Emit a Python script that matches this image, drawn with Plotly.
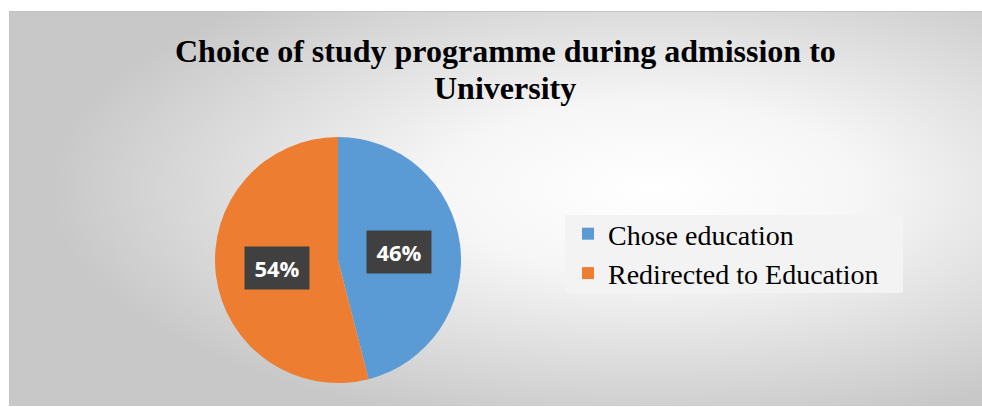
import math
import base64
import plotly.graph_objects as go

# ---- data ----
categories = ["Chose education", "Redirected to Education"]
values = [46, 54]
colors = ["#5B9BD5", "#ED7D31"]
title_lines = ["Choice of study programme during admission to", "University"]

W, H = 982, 407

# background gradient as an inline SVG image
svg = (
    '<svg xmlns="http://www.w3.org/2000/svg" width="973" height="395" viewBox="0 0 973 395" preserveAspectRatio="none">'
    '<defs><radialGradient id="g" cx="0.66" cy="0.45" r="0.62" gradientUnits="objectBoundingBox">'
    '<stop offset="0" stop-color="#ffffff"/><stop offset="0.35" stop-color="#f6f6f6"/>'
    '<stop offset="1" stop-color="#c8c8c8"/></radialGradient></defs>'
    '<rect x="0" y="0" width="973" height="395" fill="url(#g)"/>'
    '<line x1="0" y1="0.5" x2="973" y2="0.5" stroke="#c4c4c4" stroke-width="1"/>'
    '<line x1="0.5" y1="0" x2="0.5" y2="395" stroke="#c4c4c4" stroke-width="1"/>'
    '</svg>'
)
src = "data:image/svg+xml;base64," + base64.b64encode(svg.encode()).decode()

# pie domain (pixels -> paper)
px0, px1, py0, py1 = 215, 461, 137, 383
dom_x = [px0 / W, px1 / W]
dom_y = [1 - py1 / H, 1 - py0 / H]
cx = (px0 + px1) / 2
cy = (py0 + py1) / 2
rad = (px1 - px0) / 2

fig = go.Figure()
fig.add_trace(go.Pie(
    labels=categories,
    values=values,
    sort=False,
    direction="clockwise",
    rotation=0,
    marker=dict(colors=colors, line=dict(width=0)),
    textinfo="none",
    hoverinfo="label+percent",
    domain=dict(x=dom_x, y=dom_y),
))

# labels placed at each slice's mid-angle, computed from the data
total = sum(values)
cum = 0
annotations = []
for v in values:
    mid = (cum + v / 2) / total * 2 * math.pi
    cum += v
    lx = cx + 0.5 * rad * math.sin(mid)
    ly = cy - 0.5 * rad * math.cos(mid)
    pct = round(v / total * 100)
    annotations.append(dict(
        x=lx / W, y=1 - ly / H, xref="paper", yref="paper",
        xanchor="center", yanchor="middle",
        text=f"<b>{pct}%</b>", showarrow=False,
        font=dict(family="Open Sans", size=22, color="white"),
        bgcolor="#404040", borderpad=8, width=48, height=26,
    ))

# chart title (two lines, tighter spacing like the original)
for i, line in enumerate(title_lines):
    annotations.append(dict(
        x=505 / W, y=1 - (51 + 37 * i) / H, xref="paper", yref="paper",
        xanchor="center", yanchor="middle", showarrow=False,
        text=f"<b>{line}</b>",
        font=dict(family="Liberation Serif", size=32, color="black"),
    ))

fig.update_layout(
    width=W, height=H,
    margin=dict(l=0, r=0, t=0, b=0),
    paper_bgcolor="white",
    plot_bgcolor="rgba(0,0,0,0)",
    images=[dict(source=src, xref="paper", yref="paper",
                 x=9 / W, y=1 - 11 / H, sizex=(W - 9) / W, sizey=(406 - 11) / H,
                 xanchor="left", yanchor="top", sizing="stretch", layer="below")],
    shapes=[dict(type="rect", xref="paper", yref="paper",
                 x0=565 / W, x1=903 / W, y0=1 - 293 / H, y1=1 - 215 / H,
                 fillcolor="#f3f3f3", line=dict(width=0), layer="below")],
    legend=dict(x=568 / W, y=1 - 209 / H, xanchor="left", yanchor="top",
                bgcolor="rgba(0,0,0,0)",
                font=dict(family="Liberation Serif", size=28, color="black"),
                itemclick=False),
    annotations=annotations,
    showlegend=True,
)

fig.write_html(
    "out.html",
    config={"displayModeBar": False},
    post_script="document.body.style.margin='0';document.body.style.overflow='hidden';",
)
